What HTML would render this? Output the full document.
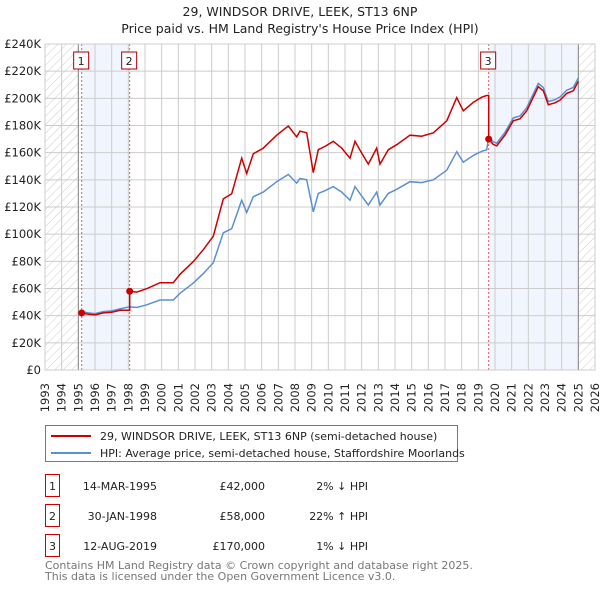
<!DOCTYPE html>
<html><head><meta charset="utf-8">
<style>
body{margin:0;background:#fff;font-family:"Liberation Sans","DejaVu Sans",sans-serif;}
svg text{font-family:"DejaVu Sans","Liberation Sans",sans-serif;}
</style></head>
<body>
<svg width="600" height="590" xmlns="http://www.w3.org/2000/svg">
<defs>
<pattern id="hatch" width="6" height="6" patternUnits="userSpaceOnUse" patternTransform="rotate(45)">
<line x1="0" y1="0" x2="0" y2="6" stroke="#ccc" stroke-width="1"/>
</pattern>
</defs>
<text x="300" y="16" text-anchor="middle" font-size="12.5" fill="#222">29, WINDSOR DRIVE, LEEK, ST13 6NP</text>
<text x="300" y="33" text-anchor="middle" font-size="12.5" fill="#222">Price paid vs. HM Land Registry's House Price Index (HPI)</text>
<g id="plot"></g>
<g>
<rect x="45.5" y="425.5" width="412" height="36" fill="#fff" stroke="#777"/>
<line x1="51" y1="436" x2="91" y2="436" stroke="#cc0000" stroke-width="2"/>
<text x="100" y="440" font-size="11" fill="#222">29, WINDSOR DRIVE, LEEK, ST13 6NP (semi-detached house)</text>
<line x1="51" y1="453" x2="91" y2="453" stroke="#5b8fd4" stroke-width="2"/>
<text x="100" y="457" font-size="11" fill="#222">HPI: Average price, semi-detached house, Staffordshire Moorlands</text>
</g>
<g id="table" font-size="11" fill="#222"></g>
<text x="45" y="569" font-size="11" fill="#777">Contains HM Land Registry data © Crown copyright and database right 2025.</text>
<text x="45" y="580" font-size="11" fill="#777">This data is licensed under the Open Government Licence v3.0.</text>
</svg>
<script>
const hpiYears=[1995.2,1995.6,1996,1996.5,1997,1997.5,1998.08,1998.5,1999.1,1999.9,2000.7,2001.1,2001.9,2002.5,2003.1,2003.7,2004.2,2004.8,2005.1,2005.5,2006.1,2006.9,2007.6,2008.1,2008.3,2008.7,2009.1,2009.4,2009.8,2010.3,2010.8,2011.3,2011.6,2012.0,2012.4,2012.9,2013.1,2013.6,2014.1,2014.9,2015.6,2016.3,2017.1,2017.7,2018.1,2018.7,2019.2,2019.5,2019.62,2019.9,2020.1,2020.6,2021.1,2021.5,2021.9,2022.6,2022.9,2023.2,2023.6,2023.9,2024.3,2024.7,2025];
const hpiValues=[43,42,41.5,43,43.5,45,46.5,46,48,51.5,51.5,56.5,64,71,79,101,104,125,116,127.6,131,138.6,144,137.6,141,140,116.5,130,132,135,131,125,135,128,121.5,131,121.5,130,133,138.6,138,140,147,160.7,153,158,161,162,172,168,167,175,185.6,187,193,211,208,197.6,199,201,206,208,215];
const saleYears=[1995.2,1998.08,2019.62];
const salePrices=[42,58,170];
const saleLabels=["1","2","3"];
const saleDates=["14-MAR-1995","30-JAN-1998","12-AUG-2019"];
const salePriceText=["£42,000","£58,000","£170,000"];
const saleHpiText=["2% ↓ HPI","22% ↑ HPI","1% ↓ HPI"];
const yTicks=[0,20,40,60,80,100,120,140,160,180,200,220,240];
const xTicks=[1993,1994,1995,1996,1997,1998,1999,2000,2001,2002,2003,2004,2005,2006,2007,2008,2009,2010,2011,2012,2013,2014,2015,2016,2017,2018,2019,2020,2021,2022,2023,2024,2025,2026];

const L=45,R=595,T=44,B=370;
const X=y=>L+(y-1993)/(2026-1993)*(R-L);
const Y=v=>B-v/240*(B-T);
const NS="http://www.w3.org/2000/svg";
const plot=document.getElementById('plot');
function mk(tag,attrs,parent){const e=document.createElementNS(NS,tag);for(const k in attrs)e.setAttribute(k,attrs[k]);(parent||plot).appendChild(e);return e;}
function hpiAt(t){for(let i=0;i<hpiYears.length-1;i++){if(t>=hpiYears[i]&&t<=hpiYears[i+1]){const f=(t-hpiYears[i])/(hpiYears[i+1]-hpiYears[i]);return hpiValues[i]+f*(hpiValues[i+1]-hpiValues[i]);}}return hpiValues[hpiValues.length-1];}

let r=mk('rect',{x:X(1993),y:T,width:X(1995)-X(1993),height:B-T,fill:'url(#hatch)'});


r=mk('rect',{x:X(2025),y:T,width:X(2026)-X(2025),height:B-T,fill:'url(#hatch)'});


r=mk('rect',{x:X(saleYears[0]),y:T,width:X(saleYears[1])-X(saleYears[0]),height:B-T,fill:'#eef3fc',opacity:0.8});


r=mk('rect',{x:X(saleYears[2]),y:T,width:X(2025)-X(saleYears[2]),height:B-T,fill:'#eef3fc',opacity:0.8});



xTicks.forEach(t=>{const g=mk('line',{x1:X(t),x2:X(t),y1:T,y2:B,stroke:'#ccc','stroke-width':1});


const tx=mk('text',{x:0,y:0,'font-size':11.5,fill:'#222','text-anchor':'end',transform:`translate(${X(t)+4},${B+13}) rotate(-90)`});
tx.textContent=t;

});
yTicks.forEach(v=>{const g=mk('line',{x1:L,x2:R,y1:Y(v),y2:Y(v),stroke:'#ccc','stroke-width':1});


const tx=mk('text',{x:L-4,y:Y(v)+4,'font-size':11.5,fill:'#222','text-anchor':'end'});
tx.textContent=v===0?'£0':'£'+v+'K';

});
let ln=mk('line',{x1:X(1995),x2:X(1995),y1:T,y2:B,stroke:'#888','stroke-width':1});


ln=mk('line',{x1:X(2025),x2:X(2025),y1:T,y2:B,stroke:'#888','stroke-width':1});



saleYears.forEach((s,i)=>{const l=mk('line',{x1:X(s),x2:X(s),y1:T,y2:B,stroke:'#e06060','stroke-width':1,'stroke-dasharray':'2,2'});


const bx=mk('rect',{x:X(s)-8,y:52,width:15,height:17,fill:'#fff',stroke:'#aa0000'});


const t=mk('text',{x:X(s)-0.5,y:65,'font-size':11,fill:'#222','text-anchor':'middle'});
t.textContent=saleLabels[i];

});

const hp=mk('path',{d:hpiYears.map((t,i)=>(i?'L':'M')+X(t).toFixed(1)+','+Y(hpiValues[i]).toFixed(1)).join(''),fill:'none',stroke:'#5b8fd4','stroke-width':1.5});



let d='';
for(let k=0;k<saleYears.length;k++){
  const ratio=salePrices[k]/hpiAt(saleYears[k]);
  const end=k<saleYears.length-1?saleYears[k+1]:2025.01;
  const pts=[saleYears[k]].concat(hpiYears.filter(t=>t>saleYears[k]&&t<end));
  pts.forEach((t,i)=>{d+=((k===0&&i===0)?'M':'L')+X(t).toFixed(1)+','+Y(hpiAt(t)*ratio).toFixed(1);});
  if(k<saleYears.length-1){const last=pts[pts.length-1];d+='L'+X(end).toFixed(1)+','+Y(hpiAt(last)*ratio).toFixed(1);}
}
const pp=mk('path',{d:d,fill:'none',stroke:'#cc0000','stroke-width':1.5});


saleYears.forEach((s,i)=>{const c=mk('circle',{cx:X(s),cy:Y(salePrices[i]),r:3.5,fill:'#cc0000'});

});
mk('rect',{x:L,y:T,width:R-L,height:B-T,fill:'none',stroke:'#ccc'});

const tb=document.getElementById('table');
const rowY=[486,516,546];
saleLabels.forEach((lab,i)=>{
  const y=rowY[i];
  const b=mk('rect',{x:45.5,y:y-11.5,width:14,height:22,fill:'#fff',stroke:'#cc0000'},tb);
  
  
  const tl=mk('text',{x:52.5,y:y+4,'text-anchor':'middle'},tb);tl.textContent=lab;
  
  
  const td=mk('text',{x:157,y:y+4,'text-anchor':'end'},tb);td.textContent=saleDates[i];
  
  
  const tp=mk('text',{x:265,y:y+4,'text-anchor':'end'},tb);tp.textContent=salePriceText[i];
  
  
  const th=mk('text',{x:368,y:y+4,'text-anchor':'end'},tb);th.textContent=saleHpiText[i];
  
  
});
</script>
</body></html>
